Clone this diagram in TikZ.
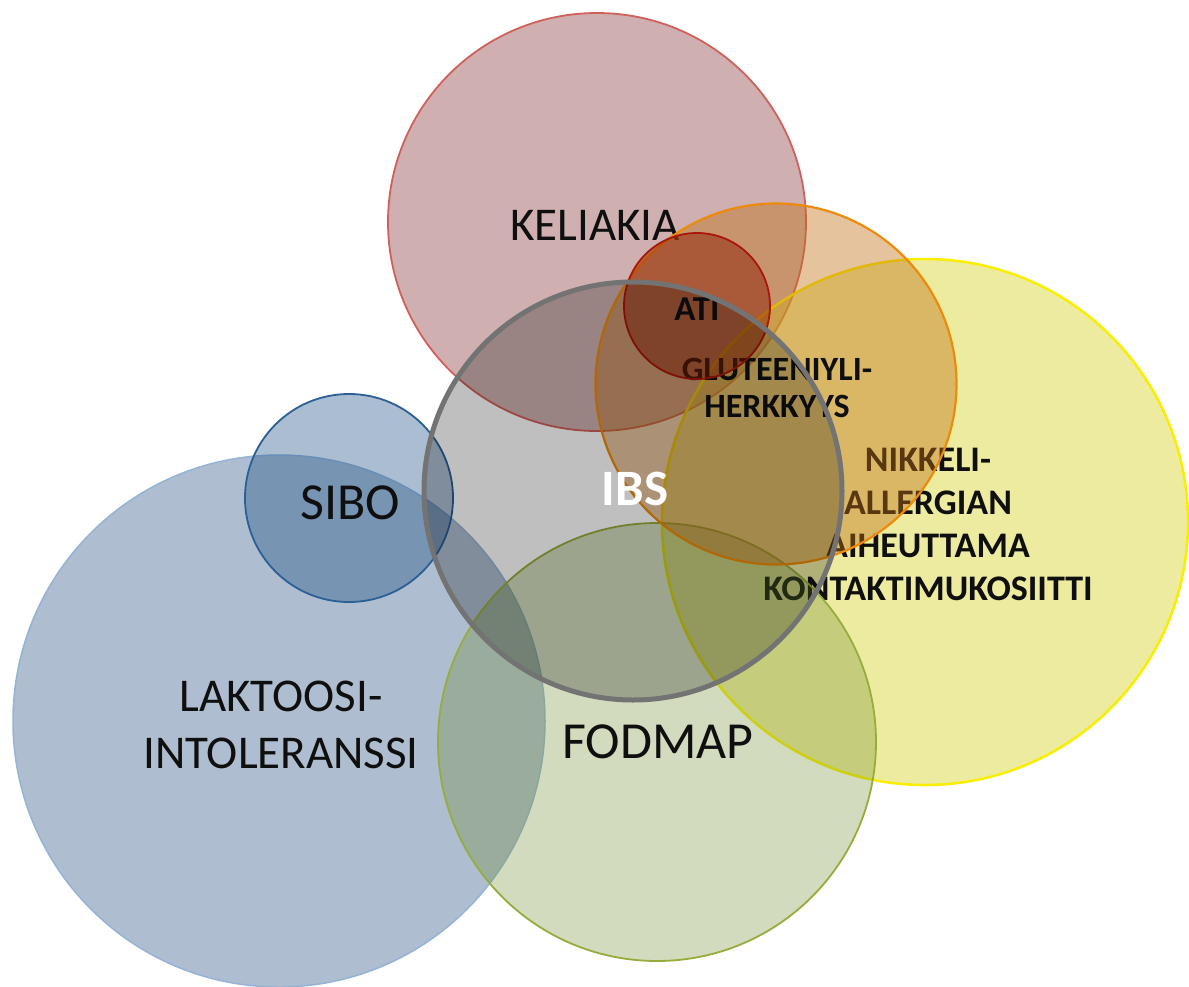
\documentclass[tikz,border=0pt]{standalone}
\usepackage{fontspec}
\setmainfont{Carlito}
\definecolor{lakfill}{RGB}{93,123,159}
\definecolor{lakline}{RGB}{149,179,215}
\definecolor{sibfill}{RGB}{34,82,134}
\definecolor{sibline}{RGB}{44,95,150}
\definecolor{kelfill}{RGB}{148,77,77}
\definecolor{kelline}{RGB}{208,96,91}
\definecolor{yelfill}{RGB}{215,211,44}
\definecolor{yelline}{RGB}{250,238,0}
\definecolor{fodfill}{RGB}{114,142,49}
\definecolor{fodline}{RGB}{150,172,60}
\definecolor{orafill}{RGB}{193,112,22}
\definecolor{oraline}{RGB}{238,138,10}
\definecolor{atifill}{RGB}{141,33,3}
\definecolor{atiline}{RGB}{170,22,10}
\definecolor{ibsline}{RGB}{115,115,115}
\definecolor{txt}{RGB}{15,15,15}
\tikzset{
  venn/.style={circle, inner sep=0pt, minimum size=#1},
  lbl/.style={anchor=base, text=txt, align=center, font=\fontsize{47}{56.5}\selectfont},
  blbl/.style={anchor=base, text=txt, align=center, font=\bfseries\fontsize{36}{42.7}\selectfont},
}
\begin{document}
\begin{tikzpicture}[x=1pt,y=-1pt]
\useasboundingbox (0,0) rectangle (1189,986);
% Laktoosi-intoleranssi
\node[venn=532pt, fill=lakfill, fill opacity=0.5, draw=lakline, line width=1.5pt] (lak) at (279,721) {};
\node[lbl] (tlak) at (281,768) {LAKTOOSI-\\INTOLERANSSI};
% SIBO
\node[venn=208pt, fill=sibfill, fill opacity=0.38, draw=sibline, line width=1.8pt] (sib) at (349,498) {};
\node[lbl, font=\fontsize{52}{60}\selectfont] (tsib) at (350,519) {SIBO};
% Keliakia
\node[venn=418pt, fill=kelfill, fill opacity=0.45, draw=kelline, line width=1.8pt] (kel) at (597,222) {};
\node[lbl] (tkel) at (595,240) {KELIAKIA};
% Nikkeliallergia
\node[venn=526pt, fill=yelfill, fill opacity=0.45, draw=yelline, line width=2.5pt] (yel) at (925,522) {};
\node[blbl] (tyel) at (928,600) {NIKKELI-\\ALLERGIAN\\AIHEUTTAMA\\KONTAKTIMUKOSIITTI};
% FODMAP
\node[venn=438pt, fill=fodfill, fill opacity=0.32, draw=fodline, line width=1.8pt] (fod) at (657,742) {};
\node[lbl, font=\fontsize{52}{60}\selectfont] (tfod) at (658,758) {FODMAP};
% Gluteeniyliherkkyys
\node[venn=361pt, fill=orafill, fill opacity=0.42, draw=oraline, line width=2.2pt] (ora) at (776,384) {};
\node[blbl, font=\bfseries\fontsize{34}{36.7}\selectfont] (tora) at (777,417) {GLUTEENIYLI-\\HERKKYYS};
% ATI
\node[venn=146pt, fill=atifill, fill opacity=0.5, draw=atiline, line width=1.8pt] (ati) at (697,306) {};
\node[blbl, font=\bfseries\fontsize{35}{40}\selectfont] (tati) at (697,320) {ATI};
% IBS
\node[venn=418pt, fill=black, fill opacity=0.25, draw=ibsline, line width=5pt] (ibs) at (633,491) {};
\node[blbl, text=white, font=\bfseries\fontsize{51}{56}\selectfont] (tibs) at (635,505) {IBS};
\end{tikzpicture}
\end{document}
